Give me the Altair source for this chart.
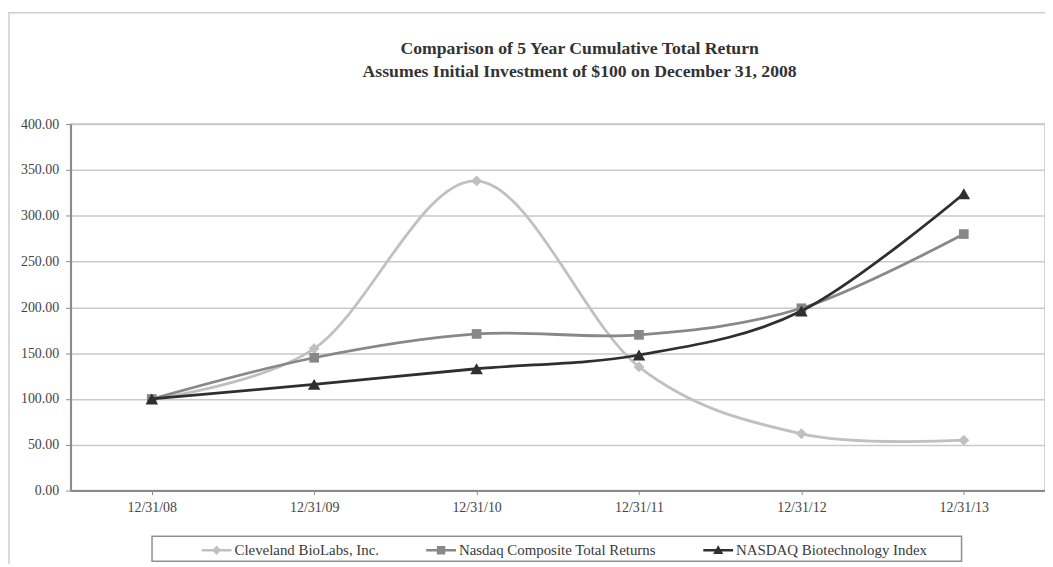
import altair as alt
import pandas as pd

dates = ["12/31/08", "12/31/09", "12/31/10", "12/31/11", "12/31/12", "12/31/13"]
series_names = ["Cleveland BioLabs, Inc.", "Nasdaq Composite Total Returns", "NASDAQ Biotechnology Index"]
cleveland = [100.00, 155.00, 338.00, 135.00, 62.00, 55.00]
nasdaq_comp = [100.00, 145.00, 171.00, 170.00, 199.00, 280.00]
nasdaq_bio = [100.00, 116.00, 133.00, 148.00, 196.00, 324.00]
y_ticks = [0, 50, 100, 150, 200, 250, 300, 350, 400]

colors = ["#c0c0c0", "#888888", "#2f2f2f"]
marker_shapes = ["diamond", "square", "triangle-up"]
marker_sizes = [120, 95, 160]
# legend symbols: a short line with the series marker on it
legend_paths = [
    "M-1,-0.09H1V0.09H-1Z M0,-0.32L0.3,0L0,0.32L-0.3,0Z",
    "M-1,-0.09H1V0.09H-1Z M-0.28,-0.28H0.28V0.28H-0.28Z",
    "M-1,-0.09H1V0.09H-1Z M0,-0.34L0.34,0.26H-0.34Z",
]

rows = []
for name, vals in zip(series_names, [cleveland, nasdaq_comp, nasdaq_bio]):
    for d, v in zip(dates, vals):
        rows.append({"date": d, "series": name, "value": v})
df = pd.DataFrame(rows)

FONT = "Liberation Serif"

x_enc = alt.X("date:O", scale=alt.Scale(domain=dates, padding=0.5),
              axis=alt.Axis(title=None, labelAngle=0))
y_enc = alt.Y("value:Q", scale=alt.Scale(domain=[0, 400], nice=False),
              axis=alt.Axis(title=None, values=y_ticks, format=".2f"))
color_scale = alt.Scale(domain=series_names, range=colors)

base = alt.Chart(df)

layers = []
# light outer frame of the figure (decoration)
frame = alt.Chart(alt.Data(values=[{"k": 1}])).mark_rect(
    fill=None, stroke="#cfcfcf", strokeWidth=1.5
).encode(x=alt.value(-62), x2=alt.value(1000), y=alt.value(-112), y2=alt.value(470))
layers.append(frame)

for i, name in enumerate(series_names):
    sel = base.transform_filter(alt.datum.series == name)
    line = sel.mark_line(interpolate="cardinal", strokeWidth=2.8, color=colors[i]).encode(
        x=x_enc, y=y_enc,
    )
    pts = sel.mark_point(filled=True, shape=marker_shapes[i], size=marker_sizes[i],
                         opacity=1, color=colors[i]).encode(
        x=x_enc, y=y_enc,
    )
    layers += [line, pts]

# box around the legend (decoration)
legend_box = alt.Chart(alt.Data(values=[{"k": 1}])).mark_rect(
    fill="white", stroke="#8f8f8f", strokeWidth=1.5
).encode(x=alt.value(82), x2=alt.value(897), y=alt.value(415), y2=alt.value(440))
layers.append(legend_box)

legend_layer = base.transform_filter("false").mark_point(filled=True, size=900, opacity=1).encode(
    x=x_enc, y=y_enc,
    color=alt.Color("series:N", scale=color_scale,
                    legend=alt.Legend(title=None, orient="none", direction="horizontal",
                                      legendX=131, legendY=413, padding=0,
                                      symbolSize=900, labelOffset=2, columnPadding=46,
                                      labelFont=FONT, labelFontSize=15, labelColor="#3a3a3a",
                                      labelLimit=400)),
    shape=alt.Shape("series:N", scale=alt.Scale(domain=series_names, range=legend_paths)),
)
layers.append(legend_layer)

chart = alt.layer(*layers).properties(
    width=981, height=369,
    padding={"left": 63, "top": 115, "right": 0, "bottom": 72},
    autosize=alt.AutoSizeParams(type="none"),
    title=alt.TitleParams(
        text=["Comparison of 5 Year Cumulative Total Return",
              "Assumes Initial Investment of $100 on December 31, 2008"],
        font=FONT, fontSize=17.8, fontWeight="bold", color="#333333",
        anchor="middle", frame="group", dx=22, offset=-69, lineHeight=23,
    ),
).configure_view(
    stroke="#c4c4c4", strokeWidth=1.5
).configure_axis(
    labelFont=FONT, labelFontSize=14, labelColor="#444444",
    domainColor="#8a8a8a", domainWidth=2, tickColor="#8a8a8a", tickWidth=1,
    gridColor="#c9c9c9", gridWidth=1.5,
).configure_axisX(
    grid=False, tickSize=4, labelPadding=6,
).configure_axisY(
    grid=True, tickSize=5, labelPadding=7,
)

chart.save("out.html", embed_options={"renderer": "svg", "actions": False})
